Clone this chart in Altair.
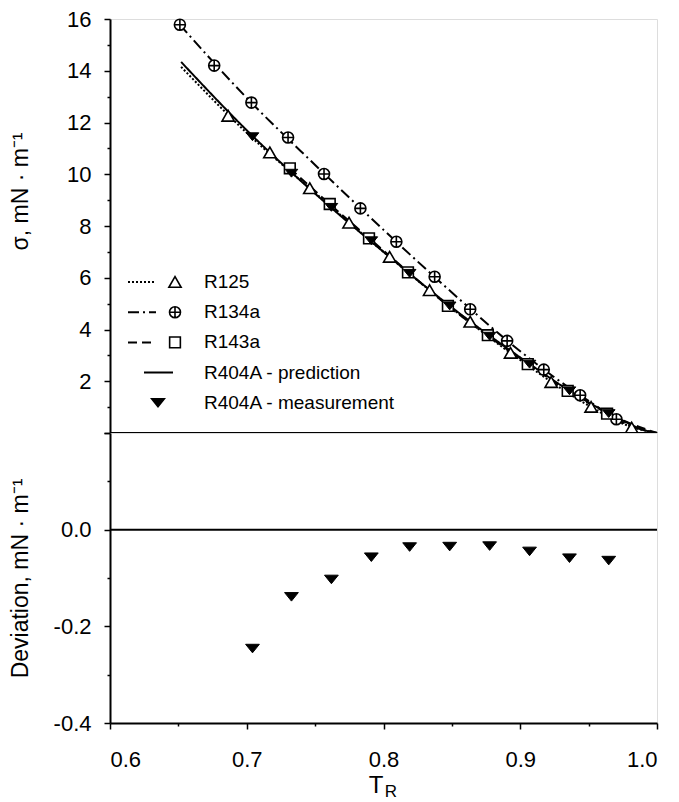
import altair as alt
import pandas as pd

# ---------------- data ----------------
# symbols (upper panel): reduced temperature T_R and surface tension sigma (mN/m)
r125_tr = [0.6864, 0.7169, 0.7461, 0.7748, 0.8045, 0.8337, 0.8634, 0.8929, 0.9226, 0.9518, 0.9815]
r125_sigma = [12.26, 10.84, 9.46, 8.13, 6.81, 5.52, 4.30, 3.10, 1.97, 1.01, 0.21]

r134a_tr = [0.6511, 0.6762, 0.7034, 0.7302, 0.7565, 0.7831, 0.8094, 0.8374, 0.8634, 0.8904, 0.9172, 0.9438, 0.9703]
r134a_sigma = [15.78, 14.20, 12.77, 11.42, 10.01, 8.68, 7.39, 6.04, 4.78, 3.56, 2.45, 1.46, 0.53]

r143a_tr = [0.7315, 0.7607, 0.7894, 0.8179, 0.8471, 0.8763, 0.9055, 0.9347, 0.9635]
r143a_sigma = [10.23, 8.85, 7.52, 6.21, 4.91, 3.78, 2.66, 1.63, 0.75]

r404a_tr = [0.7042, 0.7327, 0.7619, 0.7911, 0.8191, 0.8484, 0.8776, 0.9068, 0.9360, 0.9647]
r404a_sigma = [11.45, 10.04, 8.72, 7.43, 6.17, 4.91, 3.74, 2.66, 1.63, 0.75]
r404a_dev = [-0.246, -0.139, -0.103, -0.057, -0.036, -0.035, -0.034, -0.045, -0.059, -0.064]

# curves
curve_r125_tr = [0.652, 0.70, 0.75, 0.80, 0.85, 0.90, 0.95, 0.98, 1.0]
curve_r125_sigma = [14.15, 11.60, 9.28, 7.00, 4.82, 2.82, 1.06, 0.26, 0.0]

curve_r134a_tr = [0.651, 0.70, 0.75, 0.80, 0.85, 0.90, 0.95, 0.98, 1.0]
curve_r134a_sigma = [15.78, 12.95, 10.36, 7.85, 5.43, 3.16, 1.24, 0.29, 0.0]

curve_r143a_tr = [0.7315, 0.76, 0.80, 0.85, 0.90, 0.95, 0.98, 1.0]
curve_r143a_sigma = [10.23, 8.88, 7.05, 4.80, 2.88, 1.15, 0.38, 0.0]

curve_r404a_tr = [0.652, 0.70, 0.75, 0.80, 0.85, 0.90, 0.95, 0.975, 0.99, 1.0]
curve_r404a_sigma = [14.34, 11.70, 9.25, 7.00, 4.85, 2.92, 1.18, 0.48, 0.12, 0.0]

zero_line = [0.0]

legend_labels = ["R125", "R134a", "R143a", "R404A - prediction", "R404A - measurement"]

x_ticks = [0.6, 0.65, 0.7, 0.75, 0.8, 0.85, 0.9, 0.95, 1.0]
y1_ticks = list(range(0, 17))
y2_ticks = [-0.4, -0.3, -0.2, -0.1, 0.0, 0.1, 0.2]

# ---------------- styling ----------------
FONT = "Liberation Sans"
W, H1, H2 = 547, 414, 290
CIRCLE_CROSS = "M -1 0 A 1 1 0 1 0 1 0 A 1 1 0 1 0 -1 0 Z M -1 0 L 1 0 M 0 -1 L 0 1"
TRI_DOWN = "M -1 -0.62 L 1 -0.62 L 0 0.62 Z"

xscale = alt.Scale(domain=[0.6, 1.0], nice=False, zero=False)
y1scale = alt.Scale(domain=[0, 16], nice=False, zero=False)
y2scale = alt.Scale(domain=[-0.4, 0.2], nice=False, zero=False)

common_axis = dict(grid=False, domainColor="black", domainWidth=2, tickColor="black",
                   tickWidth=1.5, labelColor="black", labelFont=FONT, labelFontSize=22,
                   titleFont=FONT, titleFontSize=23, titleColor="black", titleFontWeight="normal")

y1axis = alt.Axis(values=y1_ticks,
                  labelExpr="datum.value % 2 == 0 && datum.value > 0 ? datum.label : ''",
                  tickSize={"condition": {"test": "datum.value % 2 == 0", "value": 6}, "value": 3},
                  labelPadding=13, title="σ, mN · m⁻¹", titleX=-90, titleY=172, titleBaseline="middle",
                  titleAngle=270, minExtent=60, maxExtent=60, **common_axis)

y2axis = alt.Axis(values=y2_ticks,
                  labelExpr="abs(round(datum.value*10)) % 2 == 0 && datum.value < 0.15 ? replace(format(datum.value, '.1f'), '−', '-') : ''",
                  tickSize={"condition": {"test": "abs(round(datum.value*10)) % 2 == 0", "value": 6}, "value": 3},
                  labelPadding=13, title="Deviation, mN · m⁻¹", titleX=-90, titleBaseline="middle",
                  titleAngle=270, minExtent=60, maxExtent=60, **common_axis)

xaxis = alt.Axis(values=x_ticks,
                 labelExpr="abs(round(datum.value*100)) % 10 == 0 ? format(datum.value, '.1f') : ''",
                 tickSize={"condition": {"test": "abs(round(datum.value*100)) % 10 == 0", "value": 6}, "value": 3},
                 labelPadding=20, title=None, **common_axis)


def df(tr, v):
    return pd.DataFrame({"tr": tr, "v": v})


def upper_enc(ch):
    return ch.encode(x=alt.X("tr:Q", scale=xscale, axis=None),
                     y=alt.Y("v:Q", scale=y1scale, axis=y1axis))


# ---------------- upper panel ----------------
upper_layers = []
# panel divider (sigma = 0 baseline)
upper_layers.append(alt.Chart(pd.DataFrame({"v": zero_line})).mark_rule(
    color="black", strokeWidth=2).encode(y=alt.Y("v:Q", scale=y1scale, axis=y1axis)))

lines = [
    (curve_r125_tr, curve_r125_sigma, [2, 2]),
    (curve_r134a_tr, curve_r134a_sigma, [11, 4, 2, 4]),
    (curve_r143a_tr, curve_r143a_sigma, [9, 5]),
    (curve_r404a_tr, curve_r404a_sigma, [1, 0]),
]
for tr, v, dash in lines:
    upper_layers.append(upper_enc(alt.Chart(df(tr, v)).mark_line(
        color="black", strokeWidth=2, strokeDash=dash, interpolate="monotone")))

upper_layers.append(upper_enc(alt.Chart(df(r125_tr, r125_sigma)).mark_point(
    shape="triangle-up", size=150, fill="white", stroke="black", strokeWidth=1.6, opacity=1)))
upper_layers.append(upper_enc(alt.Chart(df(r134a_tr, r134a_sigma)).mark_point(
    shape=CIRCLE_CROSS, size=121, fill="white", stroke="black", strokeWidth=1.6, opacity=1)))
upper_layers.append(upper_enc(alt.Chart(df(r143a_tr, r143a_sigma)).mark_point(
    shape="square", size=115, fill="white", stroke="black", strokeWidth=1.6, opacity=1)))
upper_layers.append(upper_enc(alt.Chart(df(r404a_tr, r404a_sigma)).mark_point(
    shape=TRI_DOWN, size=160, filled=True, fill="black", stroke="black", strokeWidth=1, opacity=1)))

# legend (drawn inside the upper panel)
leg_y0, leg_dy = 263, 30.2
leg_line = {0: (18, 46), 1: (18, 46), 2: (18, 46), 3: (34, 63)}
leg_dash = {0: [2, 2], 1: [11, 4, 2, 4], 2: [9, 5], 3: [1, 0]}
leg_marker = {0: ("triangle-up", 150, False), 1: (CIRCLE_CROSS, 121, False),
              2: ("square", 115, False), 4: (TRI_DOWN, 160, True)}
leg_marker_x = {0: 65, 1: 65, 2: 65, 4: 48}
for i, lab in enumerate(legend_labels):
    yy = leg_y0 + leg_dy * i
    one = pd.DataFrame({"label": [lab]})
    upper_layers.append(alt.Chart(one).mark_text(
        align="left", baseline="middle", font=FONT, fontSize=19, color="black").encode(
        x=alt.value(94), y=alt.value(yy), text="label:N"))
    if i in leg_line:
        x1, x2 = leg_line[i]
        upper_layers.append(alt.Chart(one).mark_rule(
            color="black", strokeWidth=2, strokeDash=leg_dash[i]).encode(
            x=alt.value(x1), x2=alt.value(x2), y=alt.value(yy)))
    if i in leg_marker:
        shp, sz, filled = leg_marker[i]
        upper_layers.append(alt.Chart(one).mark_point(
            shape=shp, size=sz, fill="black" if filled else "white", filled=filled,
            stroke="black", strokeWidth=1.6, opacity=1).encode(
            x=alt.value(leg_marker_x[i]), y=alt.value(yy)))

upper = alt.layer(*upper_layers).properties(width=W, height=H1)

# ---------------- lower panel ----------------
lower_zero = alt.Chart(pd.DataFrame({"v": zero_line})).mark_rule(
    color="black", strokeWidth=2).encode(
    y=alt.Y("v:Q", scale=y2scale, axis=y2axis))
lower_pts = alt.Chart(df(r404a_tr, r404a_dev)).mark_point(
    shape=TRI_DOWN, size=190, filled=True, fill="black", stroke="black", strokeWidth=1, opacity=1).encode(
    x=alt.X("tr:Q", scale=xscale, axis=xaxis),
    y=alt.Y("v:Q", scale=y2scale, axis=y2axis))

t_main = alt.Chart(pd.DataFrame({"t": ["T"]})).mark_text(
    font=FONT, fontSize=24, color="black", align="center", baseline="middle").encode(
    x=alt.value(266), y=alt.value(353), text="t:N")
t_sub = alt.Chart(pd.DataFrame({"t": ["R"]})).mark_text(
    font=FONT, fontSize=17, color="black", align="center", baseline="middle").encode(
    x=alt.value(281), y=alt.value(359), text="t:N")

lower = alt.layer(lower_zero, lower_pts, t_main, t_sub).properties(width=W, height=H2)

chart = alt.vconcat(upper, lower, spacing=0, bounds="flush").properties(
    padding={"left": 8, "top": 7, "right": 0, "bottom": 0}
).configure_view(stroke="black", strokeWidth=2).configure(background="white")

chart.save("out.html", embed_options={"renderer": "svg", "actions": False})
